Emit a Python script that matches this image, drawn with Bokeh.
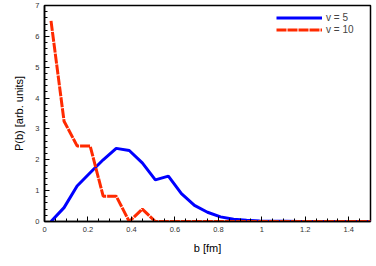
from bokeh.plotting import figure
from bokeh.embed import file_html
from bokeh.resources import INLINE
from bokeh.models import SingleIntervalTicker, CustomJSTickFormatter, Range1d

b = [0.03, 0.09, 0.15, 0.21, 0.27, 0.33, 0.39, 0.45, 0.51, 0.57, 0.63, 0.69,
     0.75, 0.81, 0.87, 0.93, 0.99, 1.05, 1.11, 1.17, 1.23, 1.29, 1.35, 1.41, 1.47, 1.53]
p_v5 = [0.0, 0.45, 1.15, 1.58, 2.0, 2.37, 2.3, 1.9, 1.35, 1.47, 0.9, 0.52,
        0.3, 0.15, 0.07, 0.04, 0.02, 0.01, 0.005, 0.0, 0.0, 0.0, 0.0, 0.0, 0.0, 0.0]
p_v10 = [6.5, 3.25, 2.45, 2.45, 0.82, 0.82, 0.0, 0.4, 0.0, 0.0, 0.0, 0.0,
         0.0, 0.0, 0.0, 0.0, 0.0, 0.0, 0.0, 0.0, 0.0, 0.0, 0.0, 0.0, 0.0, 0.0]

p = figure(width=376, height=266, output_backend="svg", toolbar_location=None,
           x_range=Range1d(0, 1.5), y_range=Range1d(0, 7),
           min_border_left=44, min_border_right=6, min_border_top=5, min_border_bottom=45)
p.grid.visible = False
p.outline_line_color = "black"
p.outline_line_width = 1.5

p.line(b, p_v5, line_color="#0000FF", line_width=3, legend_label="v = 5")
p.line(b, p_v10, line_color="#FF2A00", line_width=3, line_dash="10 1", legend_label="v = 10")

fmt = CustomJSTickFormatter(code="return (Math.round(tick*100)/100).toString();")
p.xaxis.ticker = SingleIntervalTicker(interval=0.2, num_minor_ticks=4)
p.yaxis.ticker = SingleIntervalTicker(interval=1, num_minor_ticks=5)
for ax in (p.xaxis, p.yaxis):
    ax.formatter = fmt
    ax.major_tick_in = 5
    ax.major_tick_out = 0
    ax.minor_tick_in = 3
    ax.minor_tick_out = 0
    ax.axis_line_color = "black"
    ax.axis_line_width = 1.5
    ax.major_tick_line_color = "black"
    ax.minor_tick_line_color = "black"
    ax.major_tick_line_width = 1
    ax.minor_tick_line_width = 1
    ax.major_label_text_font = "Liberation Sans"
    ax.major_label_text_font_size = "7.5px"
    ax.major_label_text_color = "#333333"
    ax.axis_label_text_font = "Liberation Sans"
    ax.axis_label_text_font_size = "11px"
    ax.axis_label_text_font_style = "normal"
    ax.axis_label_text_color = "black"
p.xaxis.axis_label = "b [fm]"
p.yaxis.axis_label = "P(b) [arb. units]"
p.xaxis.major_label_standoff = 5
p.yaxis.major_label_standoff = 5
p.xaxis.axis_label_standoff = 7
p.yaxis.axis_label_standoff = 7

p.legend.location = (230, 184)
p.legend.border_line_alpha = 0
p.legend.background_fill_alpha = 0
p.legend.label_text_font = "Liberation Sans"
p.legend.label_text_font_size = "10px"
p.legend.glyph_width = 46
p.legend.glyph_height = 11
p.legend.label_height = 11
p.legend.spacing = 1
p.legend.padding = 2
p.legend.margin = 0
p.legend.label_standoff = 4

open("out.html", "w").write(file_html(p, INLINE))
